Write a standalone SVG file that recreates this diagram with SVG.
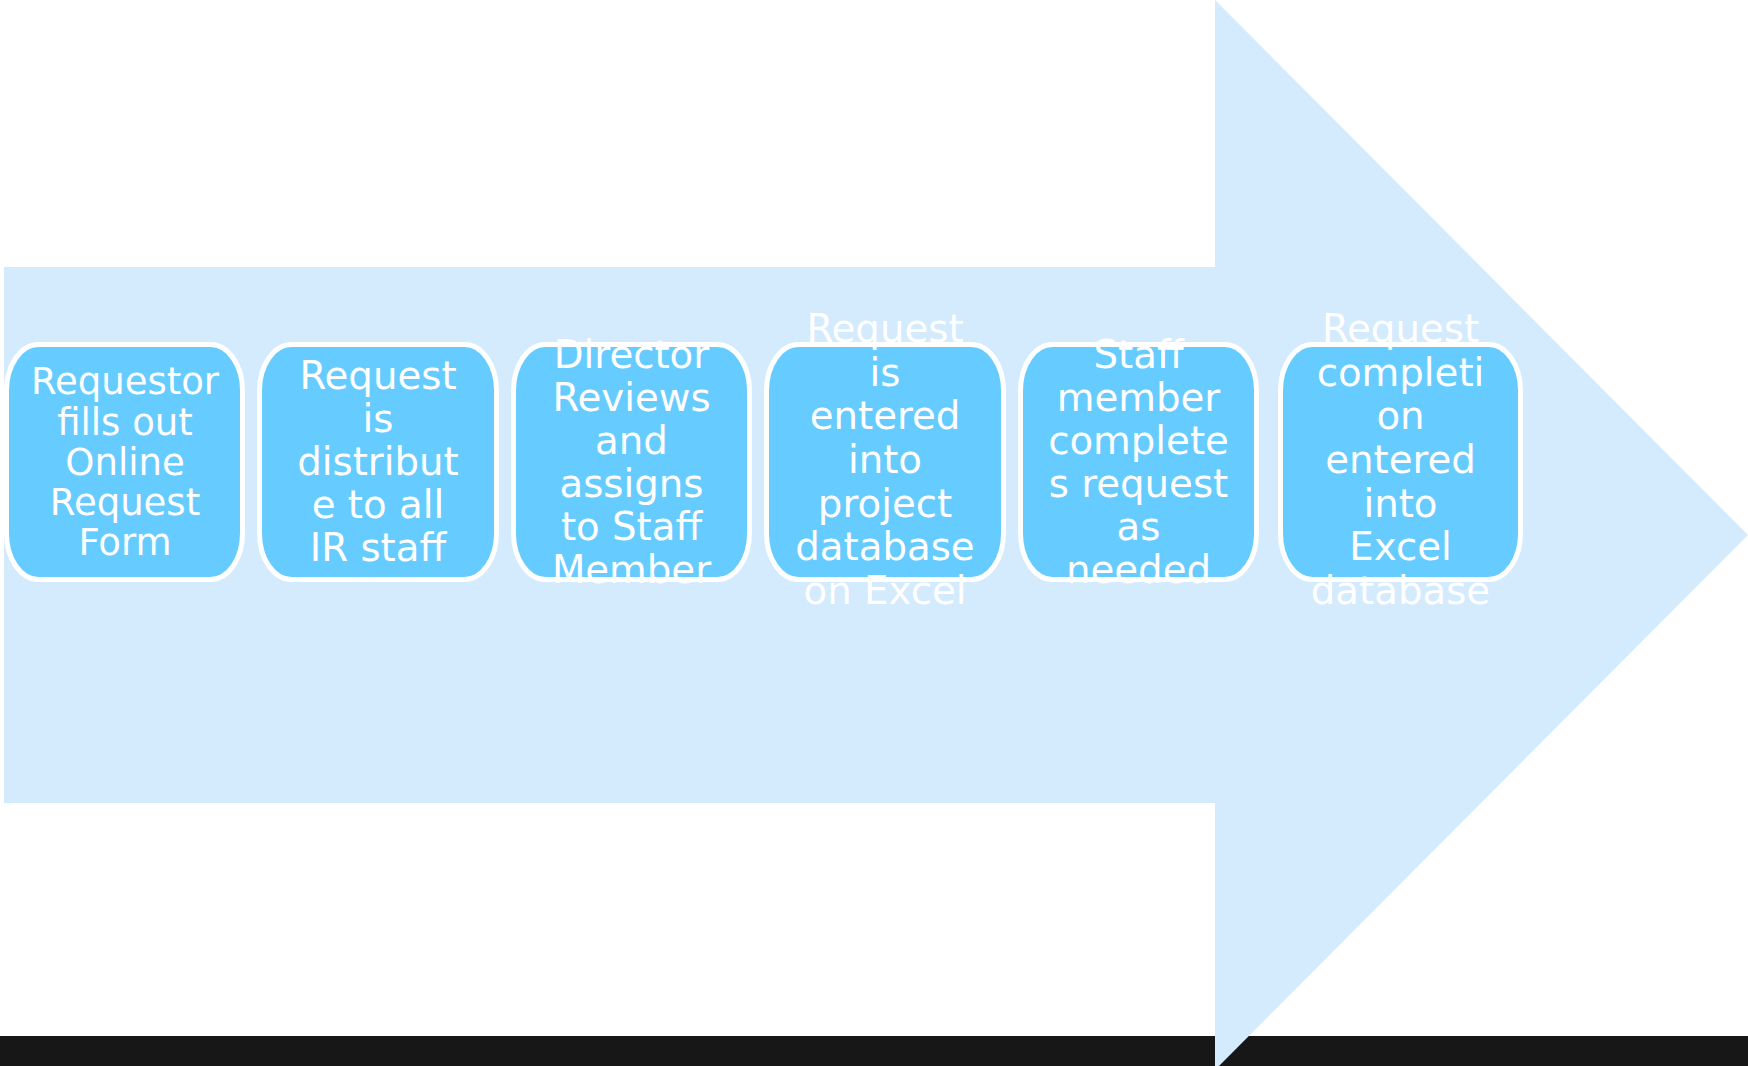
<svg xmlns="http://www.w3.org/2000/svg" width="1748" height="1066" viewBox="0 0 1748 1066">
  <style>
    .box { fill: #66CCFF; stroke: #FFFFFF; stroke-width: 5; }
    .lbl { fill: #FFFFFF; font-family: "DejaVu Sans", Verdana, sans-serif; font-size: 38.7px; text-anchor: middle; }
    .lbl1 { font-size: 37px; }
  </style>
  <rect x="0" y="0" width="1748" height="1066" fill="#FFFFFF"/>
  <rect id="bottom-bar" x="0" y="1036" width="1748" height="30" fill="#171717"/>
  <polygon id="process-arrow" points="4,267 1215,267 1215,0 1748,535 1215,1070 1215,803 4,803" fill="#D4EAFD"/>

  <g id="node-1">
    <rect class="box" x="6.5" y="344.5" width="236" height="235" rx="32" ry="46"/>
    <text class="lbl lbl1" x="125" y="394">Requestor</text>
    <text class="lbl lbl1" x="125" y="434.5">fills out</text>
    <text class="lbl lbl1" x="125" y="475">Online</text>
    <text class="lbl lbl1" x="125" y="515">Request</text>
    <text class="lbl lbl1" x="125" y="555">Form</text>
  </g>

  <g id="node-2">
    <rect class="box" x="259.5" y="344.5" width="237" height="235" rx="32" ry="46"/>
    <text class="lbl" x="378" y="389">Request</text>
    <text class="lbl" x="378" y="432">is</text>
    <text class="lbl" x="378" y="475">distribut</text>
    <text class="lbl" x="378" y="518">e to all</text>
    <text class="lbl" x="378" y="561">IR staff</text>
  </g>

  <g id="node-3">
    <rect class="box" x="513.5" y="344.5" width="236" height="235" rx="32" ry="46"/>
    <text class="lbl" x="631.5" y="368">Director</text>
    <text class="lbl" x="631.5" y="411">Reviews</text>
    <text class="lbl" x="631.5" y="454">and</text>
    <text class="lbl" x="631.5" y="497">assigns</text>
    <text class="lbl" x="631.5" y="540">to Staff</text>
    <text class="lbl" x="631.5" y="583">Member</text>
  </g>

  <g id="node-4">
    <rect class="box" x="766.5" y="344.5" width="237" height="235" rx="32" ry="46"/>
    <text class="lbl" x="885" y="342">Request</text>
    <text class="lbl" x="885" y="385.5">is</text>
    <text class="lbl" x="885" y="429">entered</text>
    <text class="lbl" x="885" y="473">into</text>
    <text class="lbl" x="885" y="517">project</text>
    <text class="lbl" x="885" y="560">database</text>
    <text class="lbl" x="885" y="604">on Excel</text>
  </g>

  <g id="node-5">
    <rect class="box" x="1020.5" y="344.5" width="236" height="235" rx="32" ry="46"/>
    <text class="lbl" x="1138.5" y="368">Staff</text>
    <text class="lbl" x="1138.5" y="411">member</text>
    <text class="lbl" x="1138.5" y="454">complete</text>
    <text class="lbl" x="1138.5" y="497">s request</text>
    <text class="lbl" x="1138.5" y="540">as</text>
    <text class="lbl" x="1138.5" y="583">needed</text>
  </g>

  <g id="node-6">
    <rect class="box" x="1280.5" y="344.5" width="240" height="235" rx="32" ry="46"/>
    <text class="lbl" x="1400.5" y="342">Request</text>
    <text class="lbl" x="1400.5" y="385.5">completi</text>
    <text class="lbl" x="1400.5" y="429">on</text>
    <text class="lbl" x="1400.5" y="473">entered</text>
    <text class="lbl" x="1400.5" y="517">into</text>
    <text class="lbl" x="1400.5" y="560">Excel</text>
    <text class="lbl" x="1400.5" y="604">database</text>
  </g>

  <g id="connectors"></g>
</svg>
